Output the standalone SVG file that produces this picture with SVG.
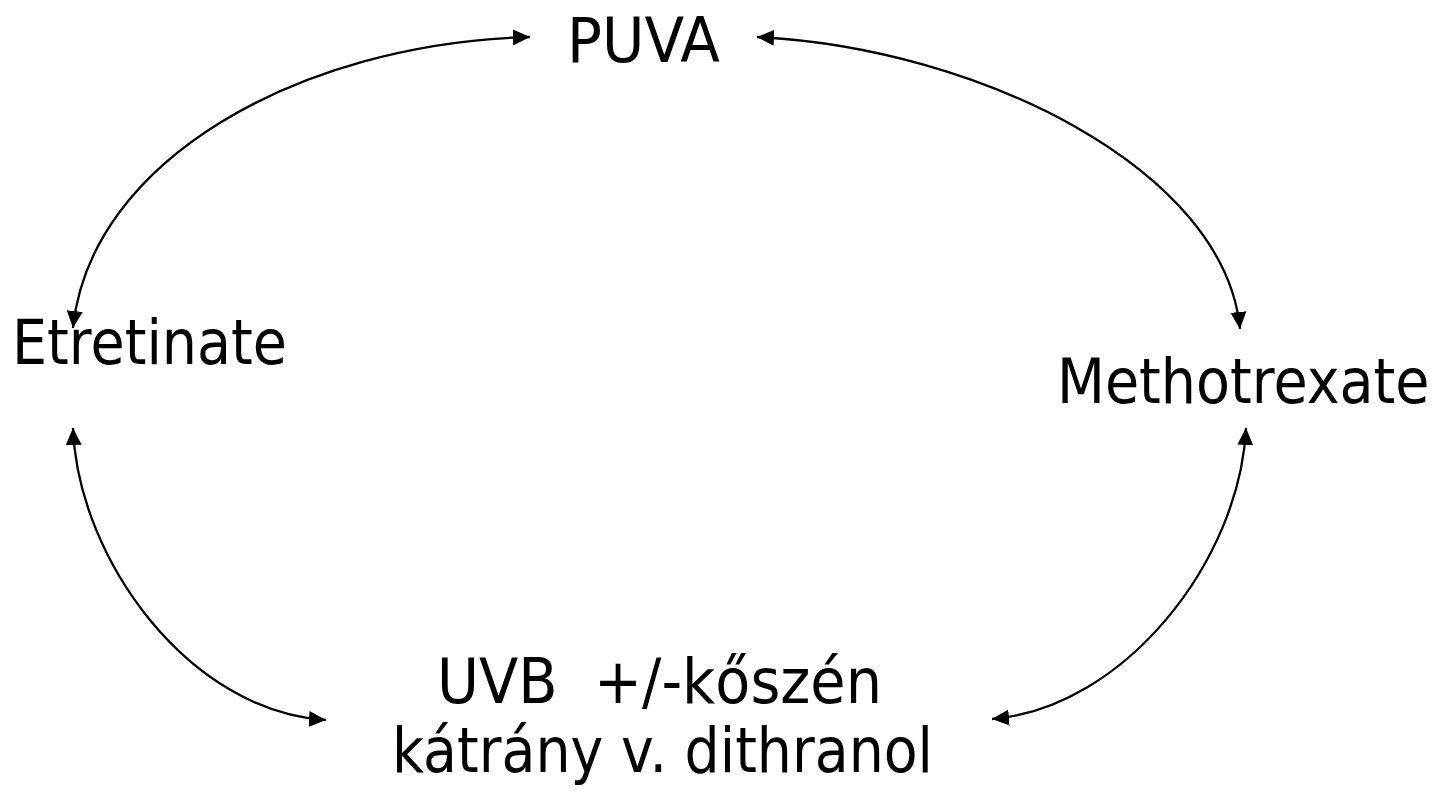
<svg xmlns="http://www.w3.org/2000/svg" width="1437" height="794" viewBox="0 0 1437 794">
  <style>
    .lbl { font-family: "DejaVu Sans", Verdana, sans-serif; font-size: 63px; fill: #000; }
    .conn { fill: none; stroke: #000; stroke-width: 2.3; }
  </style>
  <defs>
    <marker id="ah" viewBox="0 0 17 16" refX="17" refY="8" markerWidth="17" markerHeight="16" markerUnits="userSpaceOnUse" orient="auto-start-reverse">
      <path d="M0,0 L17,8 L0,16 Z" fill="#000"/>
    </marker>
  </defs>
  <rect width="1437" height="794" fill="#fff"/>
  <g id="connectors">
    <path class="conn" d="M530,37 C300,43 90,160 73,328" marker-start="url(#ah)" marker-end="url(#ah)"/>
    <path class="conn" d="M757,37 C980,48 1225,170 1240,329" marker-start="url(#ah)" marker-end="url(#ah)"/>
    <path class="conn" d="M73,428 C78,560 190,712 326,720" marker-start="url(#ah)" marker-end="url(#ah)"/>
    <path class="conn" d="M1246,428 C1240,560 1125,708 992,719" marker-start="url(#ah)" marker-end="url(#ah)"/>
  </g>
  <g id="node-puva">
    <text class="lbl" x="567" y="62" textLength="153" lengthAdjust="spacingAndGlyphs">PUVA</text>
  </g>
  <g id="node-etretinate">
    <text class="lbl" x="12" y="364" textLength="275" lengthAdjust="spacingAndGlyphs">Etretinate</text>
  </g>
  <g id="node-methotrexate">
    <text class="lbl" transform="translate(1057,403) scale(0.882,1)" x="0" y="0">Methotrexate</text>
  </g>
  <g id="node-uvb">
    <text class="lbl" x="437" y="703" textLength="445" lengthAdjust="spacingAndGlyphs" xml:space="preserve">UVB  +/-kőszén</text>
    <text class="lbl" x="392" y="772" textLength="541" lengthAdjust="spacingAndGlyphs">kátrány v. dithranol</text>
  </g>
</svg>
